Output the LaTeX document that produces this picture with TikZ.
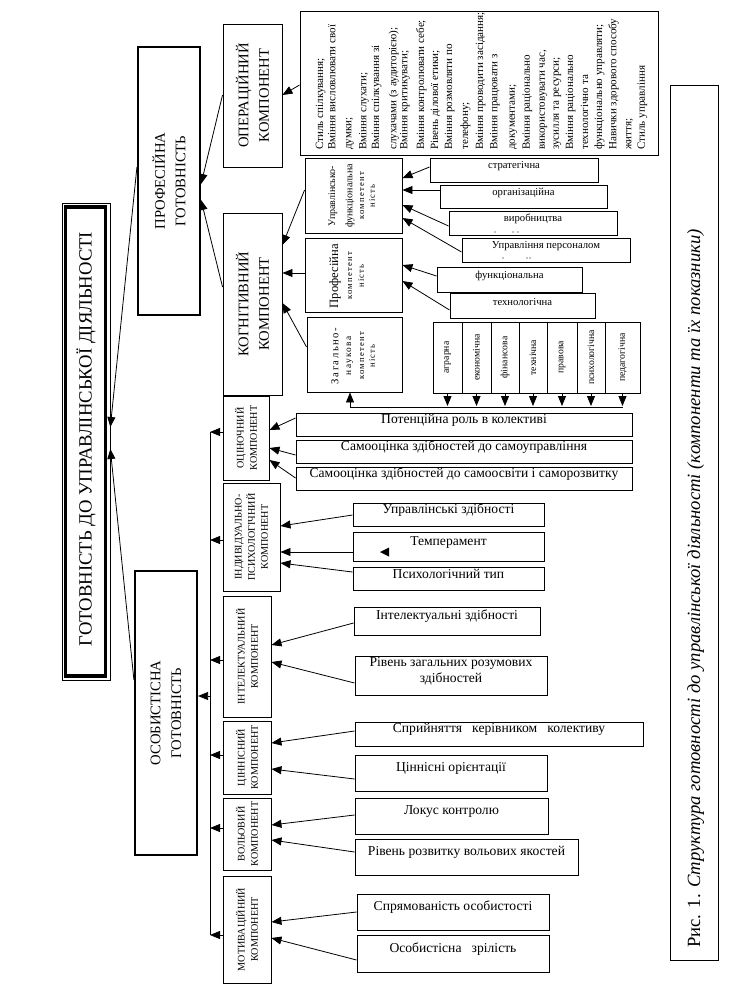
\documentclass[tikz,border=0pt]{standalone}
\usepackage{fontspec}
\setmainfont{Liberation Serif}
\usetikzlibrary{arrows.meta,fit}
\newcommand{\fsz}[2]{\fontsize{#1}{#2}\selectfont}
\newcommand{\spc}{\addfontfeature{LetterSpace=14}}
\begin{document}
\begin{tikzpicture}[x=0.75pt,y=-0.75pt,
  box/.style={draw, line width=0.7pt, inner sep=0pt},
  bbox/.style={box, line width=1.6pt},
  tb/.style={box, align=center, font=\fsz{10.2}{12}},
  sb/.style={box, font=\fsz{8}{10}},
  rt/.style={rotate=90, inner sep=0pt, align=center},
  comptxt/.style={rt, font=\fsz{7.6}{9.8}},
  bigtxt/.style={rt, font=\fsz{11}{15.5}},
  arr/.style={draw, line width=0.6pt, -{Triangle[length=7.5pt,width=6pt]}},
  ln/.style={draw, line width=0.6pt}]
\useasboundingbox (0,0) rectangle (730,990);

% ---------- main box ----------
\node[draw, line width=0.5pt, inner sep=0pt, fit={(62,203) (110,680)}] (main) {};
\draw[line width=2.5pt] (65.7,207) rectangle (105.6,676);
\node[rt, font=\fsz{14}{16}] (maint) at (86,439) {ГОТОВНІСТЬ ДО УПРАВЛІНСЬКОЇ ДІЯЛЬНОСТІ};

% ---------- readiness boxes ----------
\node[bbox, fit={(138,47) (200,315)}] (prof) {};
\node[bigtxt] (proft) at (prof.center) {ПРОФЕСІЙНА\\ГОТОВНІСТЬ};
\node[bbox, fit={(135,571) (197,855)}] (pers) {};
\node[bigtxt] (perst) at (pers.center) {ОСОБИСТІСНА\\ГОТОВНІСТЬ};

\draw[arr] (prof.west |- 0,167) -- (main.east |- 0,427);
\draw[arr] (pers.west |- 0,680) -- (main.east |- 0,449);

% ---------- professional part ----------
\node[box, fit={(223,24) (282,167)}] (op) {};
\node[bigtxt] (opt) at (op.center) {ОПЕРАЦІЙНИЙ\\КОМПОНЕНТ};
\node[box, fit={(223,213) (282,395)}] (kog) {};
\node[bigtxt] (kogt) at (kog.center) {КОГНІТИВНИЙ\\КОМПОНЕНТ};
\draw[arr] (op.west |- 0,95) -- (prof.east |- 0,184);
\draw[arr] (kog.west |- 0,287) -- (prof.east |- 0,200);

\node[box, fit={(300,11) (658,155)}] (ops) {};
\foreach \x/\t [count=\i] in {320/{Стиль спілкування;}, 332.3/{Вміння висловлювати свої}, 348.3/{думки;},
  363.3/{Вміння слухати;}, 376/{Вміння спілкування зі}, 393.3/{слухачами (з аудиторією);},
  404.3/{Вміння критикувати;}, 421/{Вміння контролювати себе;}, 435/{Рівень ділової етики;},
  449/{Вміння розмовляти по}, 465/{телефону;}, 480/{Вміння проводити засідання;},
  494.3/{Вміння працювати з}, 511.7/{документами;}, 526.7/{Вміння раціонально},
  541.7/{використовувати час,}, 555.7/{зусилля та ресурси;}, 570/{Вміння раціонально},
  585/{технологічно та}, 599/{функціонально управляти;}, 613.3/{Навички здорового способу},
  628.3/{життя;}, 641.7/{Стиль управління}}
  \node[rt, anchor=mid west, font=\fsz{8.3}{10}, name=ol\i] at (\x,150) {\t};
\draw[arr] (ops.west |- 0,85) -- (op.east |- 0,95);

% cognitive sub-boxes
\node[box, fit={(305,158) (402,233)}] (uf) {};
\node[rt, font=\fsz{7.5}{9}] (uf1) at (333,196) {Управлінсько-};
\node[rt, font=\fsz{7.5}{9}] (uf2) at (350,196) {функціональна};
\node[rt, font=\fsz{6.5}{8}\spc] (uf3) at (362,196) {компетент};
\node[rt, font=\fsz{6.5}{8}\spc] (uf4) at (372,196) {ність};

\node[box, fit={(305,238) (402,312)}] (pk) {};
\node[rt, font=\fsz{9.5}{11}] (pk1) at (335,276) {Професійна};
\node[rt, font=\fsz{6.5}{8}\spc] (pk2) at (350,276) {компетент};
\node[rt, font=\fsz{6.5}{8}\spc] (pk3) at (361,276) {ність};

\node[box, fit={(307,317) (402,392)}] (zn) {};
\node[rt, font=\fsz{8}{9}\spc] (zn1) at (335,356) {Загально-};
\node[rt, font=\fsz{7}{8}\spc] (zn2) at (350,356) {наукова};
\node[rt, font=\fsz{6.5}{8}\spc] (zn3) at (362,356) {компетент};
\node[rt, font=\fsz{6.5}{8}\spc] (zn4) at (372,356) {ність};

\draw[arr] (uf.west |- 0,190) -- (kog.east |- 0,245);
\draw[arr] (pk.west |- 0,273) -- (kog.east |- 0,273);
\draw[arr] (zn.west |- 0,347) -- (kog.east |- 0,303);

\node[sb, fit={(430,158) (598,182)}] (str) {стратегічна};
\node[sb, fit={(440,185) (607,208)}] (org) {організаційна};
\node[sb, fit={(449,211) (617,235)}] (vyr) {виробництва};
\node[sb, fit={(462,238) (630,262)}] (upr) {Управління персоналом};
\node[sb, fit={(437,267) (582,292)}] (fun) {функціональна};
\node[sb, fit={(450,293) (595,318)}] (tech) {технологічна};
\foreach \p in {(495,232),(513,232),(518,232),(503,258),(527,258),(530,258)}
  \fill \p circle (0.6);

\draw[arr] (str.west |- 0,167) -- (uf.east |- 0,178);
\draw[arr] (org.west |- 0,190) -- (uf.east |- 0,190);
\draw[arr] (vyr.west |- 0,226) -- (uf.east |- 0,205);
\draw[arr] (upr.west |- 0,252) -- (uf.east |- 0,218);
\draw[arr] (fun.west |- 0,276) -- (pk.east |- 0,265);
\draw[arr] (tech.west |- 0,310) -- (pk.east |- 0,281);

% specialty columns
\foreach \a/\b/\t [count=\i] in {433/462/аграрна, 462/491/економічна, 491/519/фінансова,
   519/547/технічна, 547/577/правова, 577/605/психологічна, 605/640/педагогічна} {
  \node[box, fit={(\a,322) (\b,393)}] (sp\i) {};
  \node[rt, font=\fsz{7.3}{9}] (spt\i) at (sp\i.center) {\t};
  \draw[arr] (sp\i.south) -- (sp\i.south |- 0,406);
}
\coordinate (hl) at (350,407);
\coordinate (hr) at (623,407);
\draw[ln] (hl) -- (hr);
\draw[arr] (hl) -- (hl |- zn.south);

% ---------- personal part ----------
\node[box, fit={(223,396) (269,480)}] (oc) {};
\node[comptxt] (oct) at (oc.center) {ОЦІНОЧНИЙ\\КОМПОНЕНТ};
\node[box, fit={(223,483) (280,591)}] (ip) {};
\node[comptxt] (ipt) at (ip.center) {ІНДИВІДУАЛЬНО-\\ПСИХОЛОГІЧНИЙ\\КОМПОНЕНТ};
\node[box, fit={(223,596) (271,717)}] (int) {};
\node[comptxt] (intt) at (int.center) {ІНТЕЛЕКТУАЛЬНИЙ\\КОМПОНЕНТ};
\node[box, fit={(223,721) (271,794)}] (cin) {};
\node[comptxt] (cint) at (cin.center) {ЦІННІСНИЙ\\КОМПОНЕНТ};
\node[box, fit={(223,798) (271,870)}] (vol) {};
\node[comptxt] (volt) at (vol.center) {ВОЛЬОВИЙ\\КОМПОНЕНТ};
\node[box, fit={(223,876) (271,983)}] (mot) {};
\node[comptxt] (mott) at (mot.center) {МОТИВАЦІЙНИЙ\\КОМПОНЕНТ};

\coordinate (v1) at (210,432);
\coordinate (v2) at (210,540);
\coordinate (v3) at (210,660);
\coordinate (v4) at (210,755);
\coordinate (v5) at (210,828);
\coordinate (v6) at (210,935);
\coordinate (vp) at (210,696);
\draw[ln] (v1) -- (v6);
\draw[arr] (oc.west |- v1) -- (v1);
\draw[arr] (ip.west |- v2) -- (v2);
\draw[arr] (int.west |- v3) -- (v3);
\draw[arr] (cin.west |- v4) -- (v4);
\draw[arr] (vol.west |- v5) -- (v5);
\draw[arr] (mot.west |- v6) -- (v6);
\draw[arr] (vp) -- (pers.east |- vp);

\node[tb, fit={(296,413) (632,436)}] (a1) {Потенційна роль в колективі};
\node[tb, fit={(296,440) (632,463)}] (a2) {Самооцінка здібностей до самоуправління};
\node[tb, fit={(296,467) (632,490)}] (a3) {Самооцінка здібностей до самоосвіти і саморозвитку};
\node[tb, fit={(353,503) (544,526)}] (b1) {Управлінські здібності};
\node[tb, fit={(353,532) (544,561)}] (b2) {Темперамент};
\node[tb, fit={(353,567) (544,590)}] (b3) {Психологічний тип};
\fill (380,552) -- (389,547.5) -- (389,556.5) -- cycle;
\node[tb, fit={(354,607) (540,635)}] (c1) {Інтелектуальні здібності};
\node[tb, fit={(355,656) (547,695)}] (c2) {Рівень загальних розумових\\здібностей};
\node[tb, fit={(355,722) (643,746)}] (d1) {Сприйняття\ \ \ керівником\ \ \ колективу};
\node[tb, fit={(355,755) (547,791)}] (d2) {Ціннісні орієнтації};
\node[tb, fit={(355,798) (548,834)}] (e1) {Локус контролю};
\node[tb, fit={(355,839) (578,875)}] (e2) {Рівень розвитку вольових якостей};
\node[tb, fit={(357,894) (549,930)}] (f1) {Спрямованість особистості};
\node[tb, fit={(357,935) (549,972)}] (f2) {Особистісна\ \ \ зрілість};

\draw[arr] (a1.west |- 0,418) -- (oc.east |- 0,430);
\draw[arr] (a2.west |- 0,455) -- (oc.east |- 0,448);
\draw[arr] (a3.west |- 0,478) -- (oc.east |- 0,460);
\draw[arr] (b1.west |- 0,515) -- (ip.east |- 0,526);
\draw[arr] (b2.west |- 0,552) -- (ip.east |- 0,552);
\draw[arr] (b3.west |- 0,572) -- (ip.east |- 0,563);
\draw[arr] (c1.west |- 0,623) -- (int.east |- 0,645);
\draw[arr] (c2.west |- 0,683) -- (int.east |- 0,662);
\draw[arr] (d1.west |- 0,731) -- (cin.east |- 0,743);
\draw[arr] (d2.west |- 0,779) -- (cin.east |- 0,769);
\draw[arr] (e1.west |- 0,815) -- (vol.east |- 0,825);
\draw[arr] (e2.west |- 0,852) -- (vol.east |- 0,840);
\draw[arr] (f1.west |- 0,912) -- (mot.east |- 0,922);
\draw[arr] (f2.west |- 0,960) -- (mot.east |- 0,938);

% ---------- caption ----------
\node[box, fit={(670,85) (718,960)}] (capb) {};
\node[rt, anchor=mid west, font=\fsz{14}{16}] (cap) at (697,948)
  {Рис. 1. \textit{Структура готовності до управлінської діяльності (компоненти та їх показники)}};
\end{tikzpicture}
\end{document}
